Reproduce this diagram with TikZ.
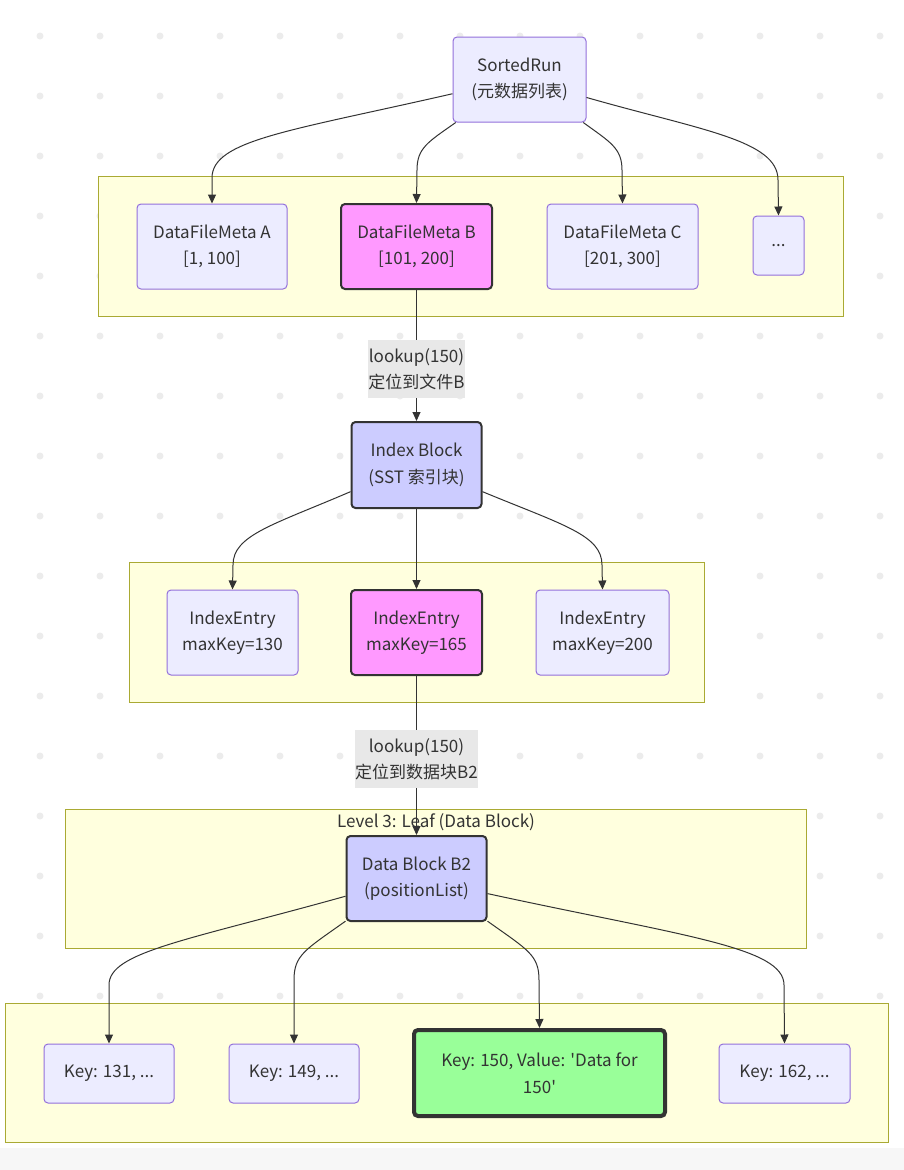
\documentclass[tikz,border=0pt]{standalone}
\usepackage{fontspec}
\setmainfont{Noto Sans CJK SC}[Ligatures=TeXOff]
\usetikzlibrary{arrows.meta}

\definecolor{nodefill}{HTML}{ECECFF}
\definecolor{nodeline}{HTML}{9370DB}
\definecolor{darkline}{HTML}{333333}
\definecolor{hitpink}{HTML}{FF99FF}
\definecolor{blockblue}{HTML}{CCCCFF}
\definecolor{foundgreen}{HTML}{99FF99}
\definecolor{clusterfill}{HTML}{FFFFDE}
\definecolor{clusterline}{HTML}{AAAA33}
\definecolor{labelgray}{HTML}{E8E8E8}
\definecolor{dotgray}{HTML}{ECECEC}

\begin{document}
\begin{tikzpicture}[x=1pt,y=-1pt,
  txt/.style={text=darkline,font=\fontsize{17}{26.5}\selectfont},
  box/.style={txt,draw=nodeline,fill=nodefill,line width=1pt,rounded corners=4pt,align=center,inner sep=0pt},
  hit/.style={box,draw=darkline,line width=2pt,fill=hitpink},
  blk/.style={box,draw=darkline,line width=2pt,fill=blockblue},
  found/.style={box,draw=darkline,line width=4pt,fill=foundgreen},
  cluster/.style={draw=clusterline,fill=clusterfill,line width=1pt},
  lbl/.style={txt,fill=labelgray,align=center,inner sep=0pt},
  edge/.style={draw=darkline,line width=1pt,-{Triangle[length=9pt,width=8pt]}}]
\useasboundingbox (0,0) rectangle (904,1170);
\fill[white] (0,0) rectangle (904,1170);
\fill[black!3] (0,1148) rectangle (904,1170);

% background dots
\foreach \i in {0,...,14}
  \foreach \j in {0,...,18}
    \fill[dotgray] (40+60*\i,36+60*\j) circle (3.5pt);

% groups
\draw[cluster] (98,176) rectangle (843,316);
\draw[cluster] (129,562) rectangle (704,702);
\draw[cluster] (65,809) rectangle (806,948);
\draw[cluster] (5,1003) rectangle (888,1142);
\node[txt] (lvl3) at (436,822) {Level 3: Leaf (Data Block)};

% nodes
\node[box,minimum width=133,minimum height=85] (sr) at (519.5,79.5) {SortedRun\\(元数据列表)};
\node[box,minimum width=150,minimum height=85] (fa) at (212,246.5) {DataFileMeta A\\{}[1, 100]};
\node[hit,minimum width=151,minimum height=85] (fb) at (416.5,246.5) {DataFileMeta B\\{}[101, 200]};
\node[box,minimum width=151,minimum height=85] (fc) at (622.5,246.5) {DataFileMeta C\\{}[201, 300]};
\node[box,minimum width=51,minimum height=59] (more) at (778.5,245.5) {...};

\node[blk,minimum width=130,minimum height=86] (ib) at (416.5,465) {Index Block\\(SST 索引块)};
\node[box,minimum width=131,minimum height=85] (ia) at (232.5,632.5) {IndexEntry\\maxKey=130};
\node[hit,minimum width=131,minimum height=85] (ic) at (416.5,632.5) {IndexEntry\\maxKey=165};
\node[box,minimum width=133,minimum height=85] (id) at (602.5,632.5) {IndexEntry\\maxKey=200};

\node[blk,minimum width=140,minimum height=85] (db) at (416.5,878.5) {Data Block B2\\(positionList)};
\node[box,minimum width=130,minimum height=59] (k1) at (109,1073.5) {Key: 131, ...};
\node[box,minimum width=130,minimum height=59] (k2) at (294,1073.5) {Key: 149, ...};
\node[found,minimum width=251,minimum height=86] (kv) at (539.5,1073) {Key: 150, Value: 'Data for\\150'};
\node[box,minimum width=131,minimum height=59] (k4) at (784.5,1073.5) {Key: 162, ...};

% edges
\draw[edge] (sr.192) .. controls (290,131) and (212,140) .. (212,178) -- (fa.north);
\draw[edge] (sr.214) .. controls (428,142) and (417,148) .. (417,170) -- (fb.north);
\draw[edge] (sr.326) .. controls (610,142) and (622,148) .. (622,170) -- (fc.north);
\draw[edge] (sr.345) .. controls (700,130) and (778,140) .. (778,180) -- (more.north);

\draw[edge] (fb) -- (ib);
\node[lbl,minimum width=96,minimum height=58] (lk1) at (416.5,369) {lookup(150)\\定位到文件B};

\draw[edge] (ib.202) .. controls (273,525) and (233,535) .. (233,565) -- (ia.north);
\draw[edge] (ib) -- (ic);
\draw[edge] (ib.338) .. controls (563,525) and (602,535) .. (602,565) -- (id.north);

\draw[edge] (ic) -- (db);
\node[lbl,minimum width=123,minimum height=58] (lk2) at (416.5,759) {lookup(150)\\定位到数据块B2};

\draw[edge] (db.194) .. controls (185,941) and (109,952) .. (109,985) -- (k1.north);
\draw[edge] (db.211) .. controls (305,950) and (294,955) .. (294,980) -- (k2.north);
\draw[edge] (db.329) .. controls (528,950) and (539,955) .. (539,980) -- (kv.north);
\draw[edge] (db.348) .. controls (683,936) and (784,947) .. (784,985) -- (k4.north);

\end{tikzpicture}
\end{document}
